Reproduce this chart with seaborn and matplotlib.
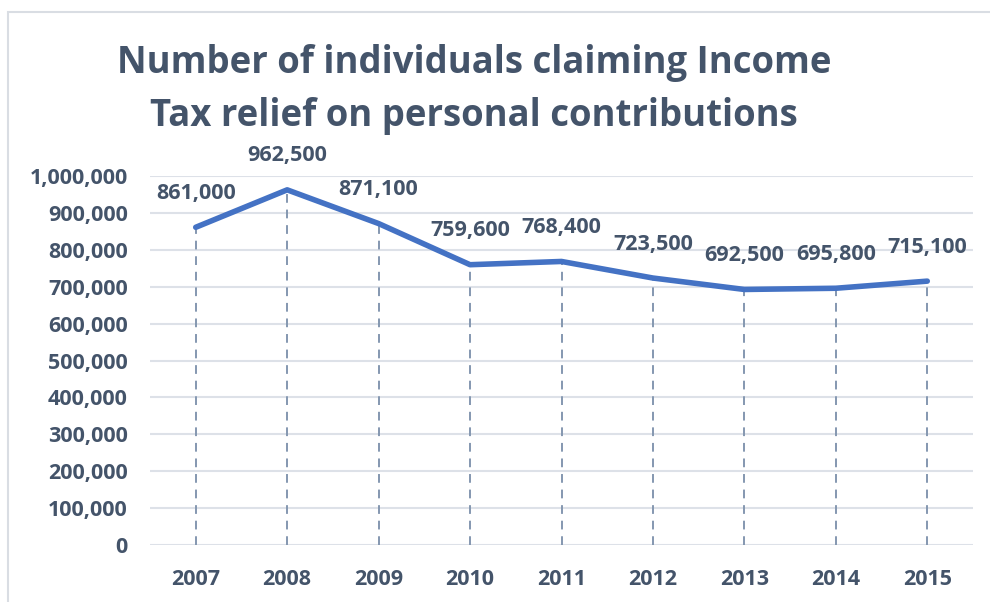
import matplotlib
matplotlib.use("Agg")
import matplotlib.pyplot as plt
import seaborn as sns
import pandas as pd
from matplotlib.patches import Rectangle
from matplotlib.ticker import FuncFormatter, MultipleLocator

years = ["2007", "2008", "2009", "2010", "2011", "2012", "2013", "2014", "2015"]
claimants = [861000, 962500, 871100, 759600, 768400, 723500, 692500, 695800, 715100]
title_lines = ["Number of individuals claiming Income",
               "Tax relief on personal contributions"]

TEXT = "#44546A"
LINE = "#4472C4"
DROP = "#8497B0"
GRID = "#DDE1E8"

sns.set_theme(style="white")
plt.rcParams["font.family"] = ["Open Sans", "DejaVu Sans"]

df = pd.DataFrame({"year": years, "claimants": claimants})
df["pos"] = range(len(df))

fig = plt.figure(figsize=(9.9, 6.02), dpi=100)
ax = fig.add_axes([150 / 990, 1 - 545 / 602, (973 - 150) / 990, (545 - 176) / 602])

# outer chart frame
fig.patches.append(Rectangle((8 / 990, -0.05), 1.1, 1 - 12 / 602 + 0.05,
                             transform=fig.transFigure, fill=False,
                             edgecolor="#D9DDE3", linewidth=1.5, zorder=0))

ax.set_xlim(-0.5, len(years) - 0.5)
ax.set_ylim(0, 1_000_000)
ax.yaxis.set_major_locator(MultipleLocator(100_000))
ax.yaxis.set_major_formatter(FuncFormatter(lambda v, _: f"{int(v):,}"))
ax.set_xticks(df["pos"])
ax.set_xticklabels(years)
ax.grid(axis="y", color=GRID, linewidth=1.5)
ax.set_axisbelow(True)
for s in ax.spines.values():
    s.set_visible(False)

# drop lines from each point to the axis
ax.vlines(df["pos"], 0, df["claimants"], colors=DROP, linestyles=(0, (4.5, 3.5)),
          linewidth=1.4, zorder=2)

sns.lineplot(data=df, x="pos", y="claimants", ax=ax, color=LINE, linewidth=4,
             solid_capstyle="round", solid_joinstyle="round", zorder=3)

for x, v in zip(df["pos"], df["claimants"]):
    ax.annotate(f"{v:,}", (x, v), xytext=(0, 24.5), textcoords="offset points",
                ha="center", va="center", fontsize=15.5, fontweight="bold",
                color=TEXT, zorder=4)

ax.tick_params(axis="both", length=0, labelsize=15.5, labelcolor=TEXT)
ax.tick_params(axis="y", pad=16)
ax.tick_params(axis="x", pad=17)
for lab in ax.get_xticklabels() + ax.get_yticklabels():
    lab.set_fontweight("bold")
ax.set_xlabel("")
ax.set_ylabel("")

fig.text(474 / 990, 1 - 63 / 602, title_lines[0], ha="center", va="center",
         fontsize=26.3, fontweight="bold", color=TEXT)
fig.text(474 / 990, 1 - 116 / 602, title_lines[1], ha="center", va="center",
         fontsize=26.3, fontweight="bold", color=TEXT)

fig.savefig("out.png", dpi=100)
